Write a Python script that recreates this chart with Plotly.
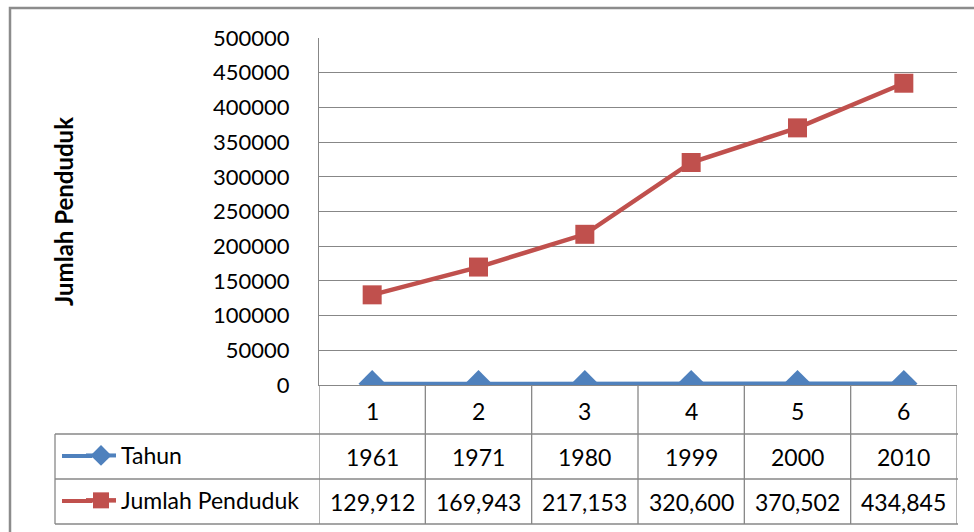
import plotly.graph_objects as go

W, H = 974, 532
categories = [1, 2, 3, 4, 5, 6]
tahun = [1961, 1971, 1980, 1999, 2000, 2010]
penduduk = [129912, 169943, 217153, 320600, 370502, 434845]
y_ticks = list(range(0, 500001, 50000))

BLUE = "#4F81BD"
RED = "#C0504D"
GRID = "#878787"
FONT = "Lato"

def fx(px):
    return px / W

def fy(py):
    return 1 - py / H

fig = go.Figure()
fig.add_trace(go.Scatter(
    x=categories, y=tahun, name="Tahun", mode="lines+markers",
    line=dict(color=BLUE, width=4),
    marker=dict(symbol="diamond", size=21, color=BLUE),
    legendgroup="a"))
fig.add_trace(go.Scatter(
    x=categories, y=penduduk, name="Jumlah Penduduk", mode="lines+markers",
    line=dict(color=RED, width=4.5),
    marker=dict(symbol="square", size=19, color=RED),
    legendgroup="b"))

# plot area geometry (pixels)
PL, PR, PT, PB = 319, 957, 38, 385
ROW1, ROW2, ROW3 = 434, 479, 524
TL = 55

shapes = []
line_style = dict(color=GRID, width=1.3)
for yy in (ROW1, ROW2, ROW3):
    shapes.append(dict(type="line", xref="paper", yref="paper",
                       x0=fx(TL), x1=fx(PR + 1), y0=fy(yy), y1=fy(yy), line=line_style))
shapes.append(dict(type="line", xref="paper", yref="paper",
                   x0=fx(TL), x1=fx(TL), y0=fy(ROW1), y1=fy(ROW3), line=line_style))
n = len(categories)
for i in range(n + 1):
    xb = categories[0] - 0.5 + i
    shapes.append(dict(type="line", xref="x", yref="paper",
                       x0=xb, x1=xb, y0=fy(PB), y1=fy(ROW3), line=line_style))
# legend key line extensions (Excel-style long keys)
for yy, col in ((456, BLUE), (501, RED)):
    shapes.append(dict(type="line", xref="paper", yref="paper",
                       x0=fx(62), x1=fx(92), y0=fy(yy), y1=fy(yy),
                       line=dict(color=col, width=4)))
# outer chart border
shapes.append(dict(type="rect", xref="paper", yref="paper",
                   x0=fx(10), x1=fx(W + 20), y0=fy(8), y1=fy(H + 20),
                   line=dict(color="#8c8c8c", width=2.5), layer="below"))

annotations = []
tf = dict(family=FONT, size=23, color="#000000")
for c, t, p in zip(categories, tahun, penduduk):
    annotations.append(dict(x=c, y=fy(411), xref="x", yref="paper", text=str(c),
                            showarrow=False, font=tf, xanchor="center", yanchor="middle"))
    annotations.append(dict(x=c, y=fy(457), xref="x", yref="paper", text=str(t),
                            showarrow=False, font=tf, xanchor="center", yanchor="middle"))
    annotations.append(dict(x=c, y=fy(502), xref="x", yref="paper", text=f"{p:,}",
                            showarrow=False, font=tf, xanchor="center", yanchor="middle"))

fig.update_layout(
    width=W, height=H,
    margin=dict(l=0, r=0, t=0, b=0, autoexpand=False),
    paper_bgcolor="white", plot_bgcolor="white",
    font=dict(family=FONT, size=22, color="#000000"),
    xaxis=dict(domain=[fx(PL), fx(PR)], range=[0.5, 6.5], showticklabels=False,
               showgrid=False, zeroline=False, showline=True, linecolor=GRID,
               linewidth=1.3, ticks="", fixedrange=True),
    yaxis=dict(domain=[fy(PB), fy(PT)], range=[0, 500000], tickvals=y_ticks,
               tickformat="d", showgrid=True, gridcolor=GRID, gridwidth=1.3,
               zeroline=False, showline=True, linecolor=GRID, linewidth=1.3,
               ticks="", ticklabelstandoff=24,
               title=dict(text="<b>Jumlah Penduduk</b>", font=dict(family=FONT, size=24),
                          standoff=132)),
    showlegend=True,
    legend=dict(x=fx(81), y=fy(434), xanchor="left", yanchor="top",
                bgcolor="rgba(0,0,0,0)", tracegroupgap=12,
                font=dict(family=FONT, size=23), itemsizing="trace"),
    shapes=shapes,
    annotations=annotations,
)

fig.write_html("out.html")
